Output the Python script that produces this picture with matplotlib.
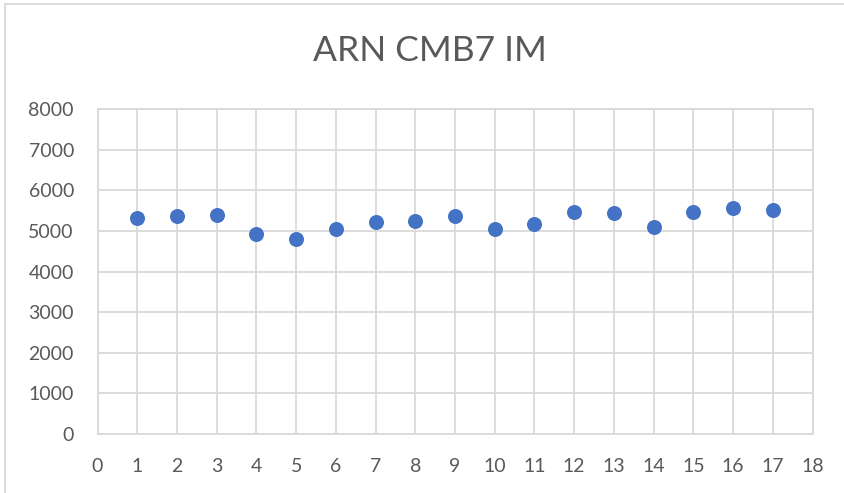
import matplotlib
matplotlib.use("Agg")
import matplotlib.pyplot as plt
from matplotlib.patches import Rectangle

# data
x_vals = [1, 2, 3, 4, 5, 6, 7, 8, 9, 10, 11, 12, 13, 14, 15, 16, 17]
y_vals = [5333, 5367, 5400, 4925, 4800, 5050, 5217, 5250, 5367,
          5058, 5175, 5458, 5442, 5092, 5475, 5567, 5508]
x_ticks = list(range(0, 19))
y_ticks = list(range(0, 8001, 1000))

BLUE = "#4472C4"
GRID = "#D9D9D9"
TEXT = "#595959"

plt.rcParams["font.family"] = ["Lato", "DejaVu Sans"]

fig = plt.figure(figsize=(8.44, 4.93), dpi=100)
fig.patch.set_facecolor("white")
ax = fig.add_axes([97.5 / 844, 1 - 434 / 493, (812.5 - 97.5) / 844, (434 - 109.3) / 493])

ax.scatter(x_vals, y_vals, s=10.8 ** 2, color=BLUE, zorder=3, linewidths=0)

ax.set_xlim(0, 18)
ax.set_ylim(0, 8000)
ax.set_xticks(x_ticks)
ax.set_yticks(y_ticks)
ax.grid(True, color=GRID, linewidth=1.3, zorder=0)
ax.set_axisbelow(True)
for s in ax.spines.values():
    s.set_color(GRID)
    s.set_linewidth(1.3)
ax.tick_params(length=0, labelsize=14, labelcolor=TEXT)
ax.tick_params(axis="y", pad=17)
ax.tick_params(axis="x", pad=17)

fig.text(430 / 844, 1 - 51 / 493, "ARN CMB7 IM", ha="center", va="center",
         fontsize=25.5, color=TEXT)

# outer chart border (cropped at right and bottom)
fig.patches.append(Rectangle((5 / 844, -0.1), 1.2, 1 - 4 / 493 + 0.1,
                             transform=fig.transFigure, fill=False,
                             edgecolor=GRID, linewidth=1.3))

fig.savefig("out.png", dpi=100, facecolor="white")
